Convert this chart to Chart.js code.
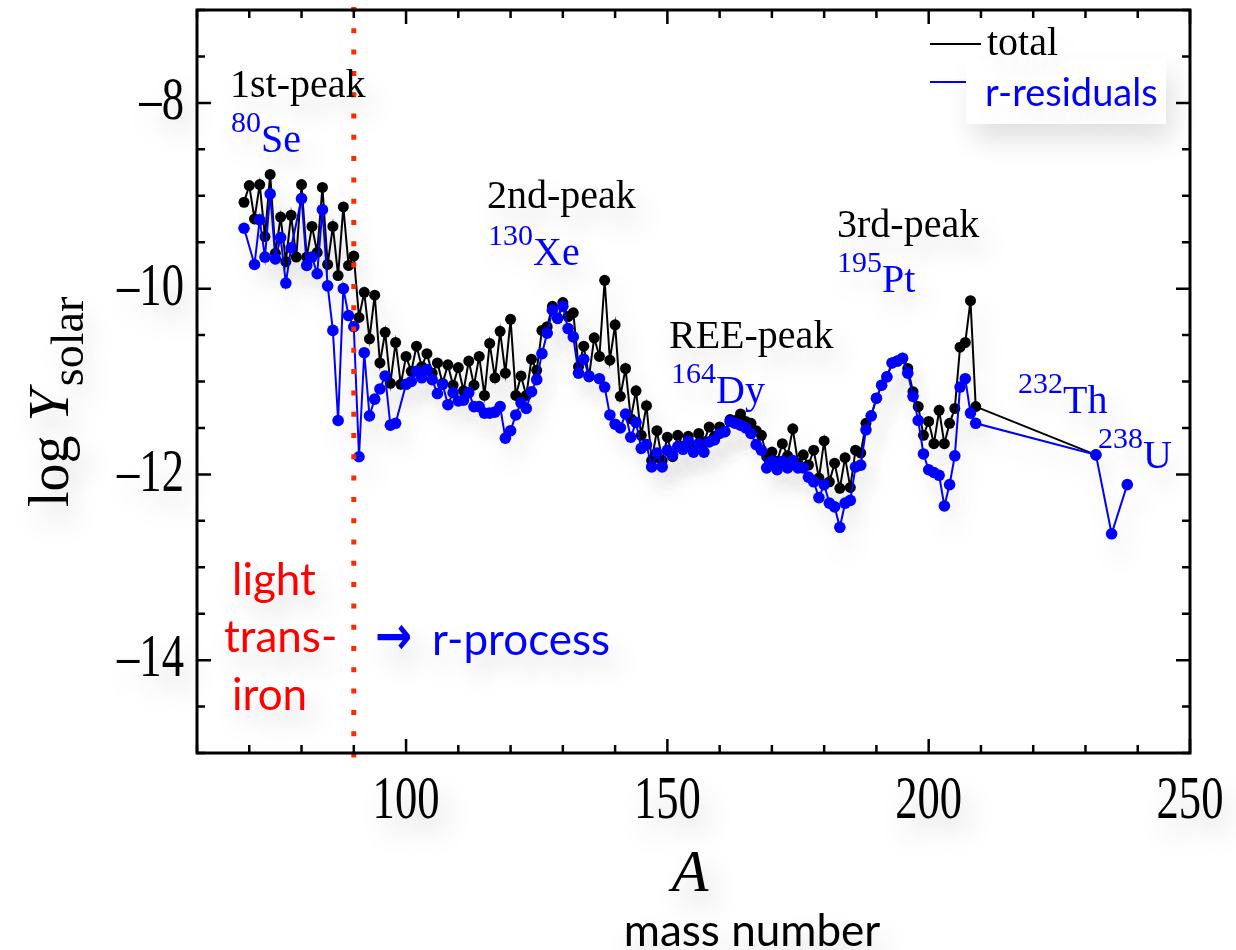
<!DOCTYPE html>
<html lang="en">
<head>
<meta charset="UTF-8">
<title>log Y solar vs mass number</title>
<style>
  body { margin: 0; background: #fff; }
  #chart { display: block; }
</style>
</head>
<body>
<canvas id="chart" width="1236" height="950"></canvas>
<script src="https://cdn.jsdelivr.net/npm/chart.js"></script>
<script>
// values (log of solar abundance per mass number A)
const massTotal = [69, 70, 71, 72, 73, 74, 75, 76, 77, 78, 79, 80, 81, 82, 83, 84, 85, 86, 87, 88,
  89, 90, 91, 92, 93, 94, 95, 96, 97, 98, 99, 100, 101, 102, 103, 104, 105, 106, 107, 108,
  109, 110, 111, 112, 113, 114, 115, 116, 117, 118, 119, 120, 121, 122, 123, 124, 125, 126, 127, 128,
  129, 130, 131, 132, 133, 134, 135, 136, 137, 138, 139, 140, 141, 142, 143, 144, 145, 146, 147, 148,
  149, 150, 151, 152, 153, 154, 155, 156, 157, 158, 159, 160, 161, 162, 163, 164, 165, 166, 167, 168,
  169, 170, 171, 172, 173, 174, 175, 176, 177, 178, 179, 180, 181, 182, 183, 184, 185, 186, 187, 188,
  189, 190, 191, 192, 193, 194, 195, 196, 197, 198, 199, 200, 201, 202, 203, 204, 205, 206, 207, 208,
  209, 232]
const logTotal = [-9.07, -8.89, -9.25, -8.88, -9.44, -8.77, -9.62, -9.23, -9.71, -9.21, -9.66, -8.88, -9.66, -9.33, -9.61, -8.91, -9.74, -9.33, -9.86, -9.12,
  -9.75, -9.65, -10.31, -10.04, -10.54, -10.07, -10.80, -10.47, -11.02, -10.58, -11.03, -10.73, -10.89, -10.62, -10.84, -10.70, -10.91, -10.80, -11.02, -10.82,
  -11.04, -10.85, -11.10, -10.78, -11.04, -10.73, -11.15, -10.59, -10.96, -10.46, -10.91, -10.33, -11.15, -10.94, -11.15, -10.76, -10.88, -10.45, -10.41, -10.19,
  -10.32, -10.15, -10.30, -10.26, -10.84, -10.62, -10.95, -10.53, -10.73, -9.91, -10.77, -10.39, -11.16, -10.86, -11.40, -11.10, -11.58, -11.26, -11.85, -11.53,
  -11.85, -11.60, -11.81, -11.58, -11.70, -11.59, -11.70, -11.56, -11.65, -11.49, -11.59, -11.49, -11.54, -11.41, -11.42, -11.35, -11.43, -11.45, -11.53, -11.58,
  -11.81, -11.76, -11.86, -11.67, -11.80, -11.51, -11.88, -11.79, -11.90, -11.74, -12.04, -11.64, -12.08, -11.88, -12.15, -11.82, -12.14, -11.74, -11.77, -11.45,
  -11.37, -11.18, -11.04, -10.95, -10.80, -10.78, -10.75, -10.86, -11.11, -11.27, -11.58, -11.43, -11.67, -11.31, -11.67, -11.45, -11.29, -10.63, -10.58, -10.13,
  -11.27, -11.79]

const massResidual = [69, 71, 72, 73, 74, 75, 76, 77, 78, 80, 81, 82, 83, 84, 85, 86, 87, 88, 89, 90,
  91, 92, 93, 94, 95, 96, 97, 98, 100, 101, 102, 103, 104, 105, 106, 107, 108, 109, 110, 111,
  112, 113, 114, 115, 116, 117, 118, 119, 120, 121, 122, 123, 124, 125, 126, 127, 128, 129, 130, 131,
  132, 133, 134, 135, 137, 138, 139, 140, 141, 142, 143, 144, 145, 146, 147, 148, 149, 150, 151, 152,
  153, 154, 155, 156, 157, 158, 159, 160, 161, 162, 163, 164, 165, 166, 167, 168, 169, 170, 171, 172,
  173, 174, 175, 176, 177, 178, 179, 180, 181, 182, 183, 184, 185, 186, 187, 188, 189, 190, 191, 192,
  193, 194, 195, 196, 197, 198, 199, 200, 201, 202, 203, 204, 205, 206, 207, 208, 209, 232, 235, 238]
const logResidual = [-9.35, -9.74, -9.26, -9.66, -8.98, -9.68, -9.45, -9.94, -9.56, -9.03, -9.75, -9.66, -9.84, -9.15, -9.97, -10.45, -11.42, -10.00, -10.29, -10.41,
  -11.81, -10.69, -11.37, -11.19, -11.08, -10.94, -11.47, -11.45, -11.03, -11.00, -10.89, -10.96, -10.87, -10.98, -11.13, -11.03, -11.25, -11.12, -11.21, -11.20,
  -11.12, -11.27, -11.27, -11.34, -11.34, -11.33, -11.27, -11.61, -11.53, -11.36, -11.23, -11.29, -11.11, -10.98, -10.70, -10.48, -10.23, -10.32, -10.19, -10.43,
  -10.52, -10.91, -10.76, -10.94, -10.97, -11.06, -11.36, -11.46, -11.50, -11.35, -11.60, -11.44, -11.72, -11.68, -11.92, -11.77, -11.92, -11.74, -11.79, -11.70,
  -11.73, -11.64, -11.76, -11.67, -11.76, -11.65, -11.63, -11.56, -11.54, -11.43, -11.45, -11.47, -11.50, -11.56, -11.68, -11.74, -11.93, -11.86, -11.95, -11.86,
  -11.93, -11.85, -11.93, -11.93, -12.03, -12.08, -12.25, -12.11, -12.31, -12.35, -12.57, -12.31, -12.28, -11.92, -11.90, -11.52, -11.37, -11.18, -11.04, -10.95,
  -10.80, -10.78, -10.75, -10.91, -11.16, -11.42, -11.78, -11.95, -11.98, -12.01, -12.34, -12.11, -11.80, -11.06, -10.97, -11.34, -11.45, -11.79, -12.64, -12.11]

const xTickLabels = [100, 150, 200, 250]
const yTickLabels = [-8, -10, -12, -14]
const borderA = 90   // light trans-iron / r-process boundary

const BLUE = '#0000ff'
const SERIF = '"Liberation Serif", "Times New Roman", serif'
const SANS = 'Lato, "Open Sans", sans-serif'

const toPoints = (xs, ys) => xs.map((x, i) => ({ x: x, y: ys[i] }))

function softShadow(ctx, alpha) {
  ctx.shadowColor = 'rgba(0,0,0,' + alpha + ')'
  ctx.shadowBlur = 28
  ctx.shadowOffsetX = 7
  ctx.shadowOffsetY = 16
}

// soft grey shadow under the curves, like the original slide
const shadow = {
  id: 'shadow',
  beforeDatasetsDraw(chart) {
    chart.ctx.save()
    softShadow(chart.ctx, 0.16)
  },
  afterDatasetsDraw(chart) {
    chart.ctx.restore()
  }
}

function condensed(ctx, txt, x, y, align, sx) {
  ctx.save()
  ctx.translate(x, y)
  ctx.scale(sx || 0.72, 1)
  ctx.textAlign = align
  ctx.textBaseline = 'middle'
  ctx.fillText(txt, 0, 0)
  ctx.restore()
}

function isotope(ctx, mass, sym, x, base) {
  ctx.fillStyle = BLUE
  ctx.font = '30px ' + SERIF
  ctx.fillText(mass, x, base - 20)
  const w = ctx.measureText(mass).width
  ctx.font = '40px ' + SERIF
  ctx.fillText(sym, x + w, base)
}

const decorations = {
  id: 'decorations',
  afterDatasetsDraw(chart) {
    // red dotted boundary line
    const ctx = chart.ctx
    const a = chart.chartArea
    const px = chart.scales.x.getPixelForValue(borderA)
    ctx.save()
    ctx.strokeStyle = '#ff2a00'
    ctx.lineWidth = 5
    ctx.setLineDash([5, 16.3])
    ctx.beginPath()
    ctx.moveTo(px, a.top - 3)
    ctx.lineTo(px, a.bottom + 5)
    ctx.stroke()
    ctx.restore()
  },
  afterDraw(chart) {
    const ctx = chart.ctx
    const a = chart.chartArea
    const xs = chart.scales.x
    const ys = chart.scales.y
    ctx.save()

    // frame
    ctx.strokeStyle = '#000'
    ctx.lineWidth = 3
    ctx.strokeRect(a.left, a.top, a.right - a.left, a.bottom - a.top)

    // inward ticks on all four sides
    ctx.lineWidth = 2.5
    ctx.beginPath()
    xs.ticks.forEach(t => {
      const p = xs.getPixelForValue(t.value)
      const len = t.value % 50 === 0 ? 14 : 8
      ctx.moveTo(p, a.bottom); ctx.lineTo(p, a.bottom - len)
      ctx.moveTo(p, a.top); ctx.lineTo(p, a.top + len)
    })
    ys.ticks.forEach(t => {
      const p = ys.getPixelForValue(t.value)
      const len = Math.abs(t.value % 2) < 1e-6 ? 14 : 8
      ctx.moveTo(a.left, p); ctx.lineTo(a.left + len, p)
      ctx.moveTo(a.right, p); ctx.lineTo(a.right - len, p)
    })
    ctx.stroke()

    softShadow(ctx, 0.22)

    // tick labels
    ctx.fillStyle = '#000'
    ctx.font = '62px ' + SERIF
    xTickLabels.forEach(v => condensed(ctx, String(v), xs.getPixelForValue(v), 802, 'center'))
    yTickLabels.forEach(v => condensed(ctx, '\u2013' + Math.abs(v), 184, ys.getPixelForValue(v), 'right'))

    // axis titles
    ctx.textBaseline = 'alphabetic'
    ctx.textAlign = 'center'
    ctx.font = 'italic 60px ' + SERIF
    ctx.fillText('A', 690, 891)
    ctx.font = '44px ' + SANS
    ctx.fillText('mass number', 752, 946)

    ctx.save()
    ctx.translate(68, 507)
    ctx.rotate(-Math.PI / 2)
    ctx.textAlign = 'left'
    ctx.font = '56px ' + SERIF
    ctx.fillText('log ', 0, 0)
    let w = ctx.measureText('log ').width
    ctx.font = 'italic 58px ' + SERIF
    ctx.fillText('Y', w, 0)
    w += ctx.measureText('Y').width + 3
    ctx.font = '46px ' + SERIF
    ctx.fillText('solar', w, 15)
    ctx.restore()

    // peak annotations
    ctx.textAlign = 'left'
    ctx.fillStyle = '#000'
    ctx.font = '40px ' + SERIF
    ctx.fillText('1st-peak', 230, 97)
    ctx.fillText('2nd-peak', 487, 208)
    ctx.fillText('3rd-peak', 837, 237)
    ctx.fillText('REE-peak', 669, 348)
    isotope(ctx, '80', 'Se', 231, 152)
    isotope(ctx, '130', 'Xe', 488, 265)
    isotope(ctx, '195', 'Pt', 837, 292)
    isotope(ctx, '164', 'Dy', 671, 403)
    isotope(ctx, '232', 'Th', 1018, 413)
    isotope(ctx, '238', 'U', 1098, 468)

    // region labels
    ctx.fillStyle = '#ff0000'
    ctx.font = '44px ' + SANS
    ctx.fillText('light', 232, 595)
    ctx.fillText('trans-', 224, 652)
    ctx.fillText('iron', 232, 710)
    ctx.fillStyle = BLUE
    ctx.font = 'bold 54px "DejaVu Sans", sans-serif'
    condensed(ctx, '\u2192', 375, 640, 'left', 0.82)
    ctx.textBaseline = 'alphabetic'
    ctx.font = '44px ' + SANS
    ctx.fillText('r-process', 432, 655)

    // legend
    ctx.shadowColor = 'rgba(0,0,0,0)'
    ctx.lineWidth = 2
    ctx.strokeStyle = '#000'
    ctx.beginPath(); ctx.moveTo(930, 44); ctx.lineTo(981, 44); ctx.stroke()
    ctx.strokeStyle = BLUE
    ctx.beginPath(); ctx.moveTo(930, 82); ctx.lineTo(966, 82); ctx.stroke()
    softShadow(ctx, 0.12)
    ctx.fillStyle = '#fff'
    ctx.fillRect(966, 59, 200, 65)
    ctx.fillStyle = '#000'
    ctx.font = '40px ' + SERIF
    ctx.fillText('total', 987, 55)
    ctx.fillStyle = BLUE
    ctx.font = '38px ' + SANS
    ctx.fillText('r-residuals', 985, 106)

    ctx.restore()
  }
}

new Chart(document.getElementById('chart'), {
  type: 'line',
  data: {
    datasets: [{
      label: 'total',
      data: toPoints(massTotal, logTotal),
      borderColor: '#000',
      backgroundColor: '#000',
      borderWidth: 2,
      pointRadius: 5.5,
      pointBorderWidth: 0,
      tension: 0,
      order: 2
    }, {
      label: 'r-residuals',
      data: toPoints(massResidual, logResidual),
      borderColor: BLUE,
      backgroundColor: BLUE,
      borderWidth: 2,
      pointRadius: 5.8,
      pointBorderWidth: 0,
      tension: 0,
      order: 1
    }]
  },
  options: {
    responsive: false,
    animation: false,
    devicePixelRatio: 1,
    layout: { padding: { left: 197, right: 46, top: 10, bottom: 197 } },
    plugins: { legend: { display: false }, tooltip: { enabled: false } },
    scales: {
      x: {
        type: 'linear', min: 60, max: 250,
        ticks: { display: false, stepSize: 10 },
        grid: { display: false, drawTicks: false },
        border: { display: false }
      },
      y: {
        min: -15, max: -7,
        ticks: { display: false, stepSize: 0.5 },
        grid: { display: false, drawTicks: false },
        border: { display: false }
      }
    }
  },
  plugins: [shadow, decorations]
})
</script>
</body>
</html>
